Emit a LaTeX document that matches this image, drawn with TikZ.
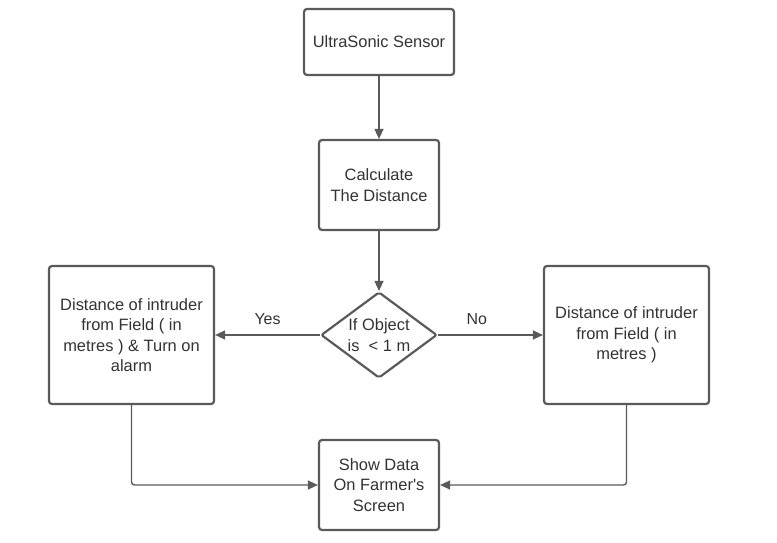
\documentclass[tikz,border=0pt]{standalone}
\usepackage{fontspec}
\setmainfont{Liberation Sans}
\usepackage{tikz}
\usetikzlibrary{arrows.meta,shapes.geometric}
\definecolor{trait}{HTML}{5A5A5A}
\definecolor{texte}{HTML}{333333}

\begin{document}
\begin{tikzpicture}[x=1bp,y=-1bp,
        boite/.style={draw=trait, line width=2.2bp, rounded corners=3bp, fill=white,
            text=texte, align=center, inner sep=0pt,
            font=\fontsize{16.5}{20.5}\selectfont},
        losange/.style={boite, diamond, aspect=1.5, rounded corners=2bp},
        fleche/.style={draw=trait, line width=1.4bp, -{Triangle[length=10bp,width=9bp]}},
        lien/.style={draw=trait, line width=1.4bp, rounded corners=3bp},
        etiquette/.style={text=texte, font=\fontsize{16}{19}\selectfont}]
        \useasboundingbox (0,0) rectangle (777,543);
        % Capteur et calcul
        \node[boite, minimum width=150bp, minimum height=66bp] (capteur) at (379,42) {UltraSonic Sensor};
        \node[boite, minimum width=120bp, minimum height=90bp] (calcul) at (379,185) {Calculate\\The Distance};
        % Test
        \node[losange, minimum width=116bp, minimum height=86bp] (test) at (379,335) {If Object\\is \ < 1 m};
        % Branches
        \node[boite, minimum width=165bp, minimum height=138bp] (oui) at (131.5,335)
            {Distance of intruder\\from Field ( in\\metres ) \& Turn on\\alarm};
        \node[boite, minimum width=165bp, minimum height=138bp] (non) at (626.5,335)
            {Distance of intruder\\from Field ( in\\metres )};
        % Affichage
        \node[boite, minimum width=120bp, minimum height=90bp] (ecran) at (379,485) {Show Data\\On Farmer\textquotesingle s\\Screen};
        % Fleches
        \draw[fleche] (capteur) -- (calcul);
        \draw[fleche] (calcul) -- (test);
        \draw[fleche] (test) -- (oui) node[etiquette, midway, above=6bp] {Yes};
        \draw[fleche] (test) -- (non) node[etiquette, pos=0.37, above=6bp] {No};
        \draw[lien, -{Triangle[length=10bp,width=9bp]}] (oui.south) |- (ecran.west);
        \draw[lien, -{Triangle[length=10bp,width=9bp]}] (non.south) |- (ecran.east);
    \end{tikzpicture}
\end{document}
